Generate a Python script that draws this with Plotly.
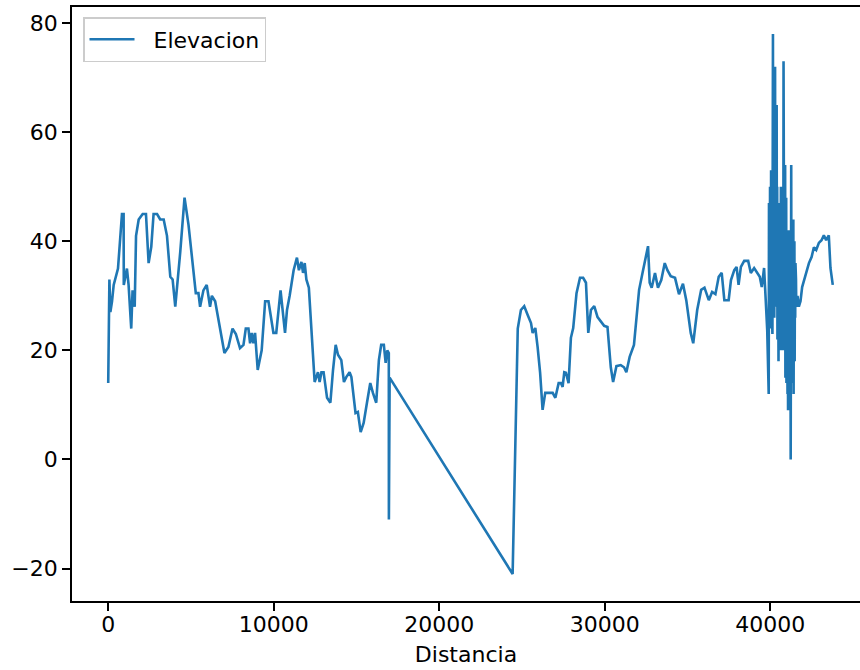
import plotly.graph_objects as go

# Distance along the profile (m) and elevation (m)
distancia = [
    0, 20, 70, 130, 230, 330, 590, 830, 930, 940,
    1130, 1230, 1390, 1470, 1600, 1680, 1840, 2080, 2280, 2440,
    2600, 2740, 2950, 3140, 3350, 3550, 3750, 3890, 4050, 4350,
    4610, 4850, 5150, 5290, 5450, 5550, 5750, 5950, 6150, 6260,
    6460, 6660, 7020, 7260, 7510, 7710, 7960, 8170, 8310, 8470,
    8570, 8670, 8770, 8870, 9030, 9270, 9480, 9680, 9980, 10150,
    10410, 10680, 10800, 10960, 11200, 11400, 11520, 11670, 11770, 11870,
    11970, 12120, 12470, 12670, 12770, 12880, 13010, 13220, 13420, 13580,
    13740, 13880, 14080, 14240, 14380, 14580, 14690, 14940, 15080, 15250,
    15430, 15630, 15830, 15990, 16190, 16350, 16490, 16650, 16760, 16860,
    16950, 16955, 17000, 24430, 24740, 24930, 25130, 25340, 25540, 25640,
    25800, 25940, 26090, 26240, 26400, 26640, 26850, 27010, 27210, 27350,
    27450, 27550, 27650, 27810, 27950, 28090, 28290, 28500, 28690, 28860,
    29000, 29160, 29360, 29560, 29760, 29960, 30160, 30260, 30360, 30500,
    30700, 30960, 31160, 31300, 31500, 31760, 31900, 32070, 32310, 32610,
    32710, 32830, 33030, 33210, 33410, 33620, 33780, 33980, 34240, 34480,
    34720, 34920, 35190, 35340, 35580, 35820, 36020, 36280, 36480, 36680,
    36880, 37060, 37220, 37480, 37620, 37820, 37960, 38080, 38220, 38420,
    38660, 38820, 39020, 39220, 39360, 39480, 39620, 39720, 39810,
    39900, 39916, 39932, 39948, 39964, 39980, 39996, 40012, 40028, 40044,
    40060, 40076, 40092, 40108, 40124, 40140, 40156, 40172, 40188, 40204,
    40220, 40236, 40252, 40268, 40284, 40300, 40316, 40332, 40348, 40364,
    40380, 40396, 40412, 40428, 40444, 40460, 40476, 40492, 40508, 40524,
    40540, 40556, 40572, 40588, 40604, 40620, 40636, 40652, 40668, 40684,
    40700, 40716, 40732, 40748, 40764, 40780, 40796, 40812, 40828, 40844,
    40860, 40876, 40892, 40908, 40924, 40940, 40956, 40972, 40988, 41004,
    41020, 41036, 41052, 41068, 41084, 41100, 41116, 41132, 41148, 41164,
    41180, 41196, 41212, 41228, 41244, 41260, 41276, 41292, 41308, 41324,
    41340, 41356, 41372, 41388, 41404, 41420, 41436, 41452, 41468, 41484,
    41500, 41516, 41532, 41548, 41564,
    41640, 41720, 41820, 41920,
    42160, 42330, 42490, 42630, 42770, 42930, 43090, 43230, 43370, 43530,
    43630, 43770,
]
elevacion = [
    14, 24, 33, 27, 29, 32, 35, 45, 45, 32,
    35, 32, 24, 31, 28, 41, 44, 45, 45, 36,
    39, 45, 45, 44, 44, 41, 33.5, 33, 28, 38,
    48, 43, 35, 30.5, 30.5, 28, 31, 32, 28, 30,
    29, 25.6, 19.5, 20.6, 24, 23, 20.4, 21, 24, 24,
    21.3, 23.2, 21.3, 23.2, 16.4, 20, 29, 29, 23.2, 23.2,
    31, 23.2, 27.4, 30, 34.7, 37, 34.7, 36.2, 34.2, 36,
    33, 31.5, 14.2, 16, 14.2, 16, 16, 11.3, 10.4, 16.4,
    21, 19.2, 18.2, 14.2, 15.1, 16, 15.1, 8.5, 8.7, 5,
    6.7, 10.4, 14, 12.2, 10.4, 18.2, 21, 21, 17.7, 20,
    19.5, -11, 15, -21, 24, 27.4, 28.1, 26.5, 25, 23.2,
    24.1, 20.6, 15.9, 9.1, 12.2, 12.2, 12.2, 11.3, 14, 14,
    13.3, 16, 15.9, 14, 22.3, 24.1, 30.5, 33.3, 33.3, 32.4,
    23.2, 27.4, 28.1, 26.1, 25.2, 24.5, 24.3, 20.6, 16.9, 14.2,
    17.1, 17.3, 16.9, 16, 18.8, 21, 26.1, 31.1, 34.7, 39.1,
    32.4, 31.5, 34.2, 31.5, 32.9, 36, 34.7, 33.6, 33.3, 30.3,
    32.2, 29.2, 23.2, 21.3, 27.4, 31.1, 31.5, 29.2, 30.7, 30.3,
    33.5, 34.2, 29.2, 29.2, 32.9, 34.7, 35.3, 32, 35.3, 36.4,
    36.4, 34.2, 35.1, 34.2, 33.5, 31.6, 35.1, 29.2, 23.7,
    12, 47, 22, 44, 26, 50, 24, 46, 30, 53,
    25, 42, 28, 48, 23, 40, 78, 27, 52, 30,
    60, 26, 45, 33, 72, 28, 55, 30, 48, 35,
    65, 29, 50, 22, 46, 30, 40, 18, 44, 21,
    38, 24, 47, 20, 42, 28, 50, 23, 45, 26,
    41, 20, 38, 25, 35, 22, 73, 28, 47, 20,
    44, 30, 54, 15, 43, 22, 48, 14, 40, 18,
    36, 12, 38, 9, 33, 20, 42, 10, 35, 18,
    30, 12, 34, 0, 28, 54, 15, 44, 20, 36,
    14, 38, 22, 44, 12, 36, 28, 40, 18, 34,
    26, 36, 30, 33, 28,
    30, 28, 29, 31.6,
    34.2, 36, 37.1, 38.9, 38.4, 39.7, 40.2, 41.1, 40.2, 41.1,
    35.1, 32,
]
x_ticks = [0, 10000, 20000, 30000, 40000]
y_ticks = [-20, 0, 20, 40, 60, 80]

FONT = "DejaVu Sans"
W, H = 860, 670
L, R, T, B = 72, 0, 7, 69
full_axes_w = 797  # matplotlib axes box extends past the cropped image edge
plot_w = W - L - R

xmin, xmax = min(distancia), max(distancia)
xpad = 0.05 * (xmax - xmin)
x0, x1_full = xmin - xpad, xmax + xpad
x1 = x0 + (x1_full - x0) * plot_w / full_axes_w

ymin, ymax = min(elevacion), max(elevacion)
ypad = 0.05 * (ymax - ymin)

fig = go.Figure()
fig.add_trace(go.Scatter(
    x=distancia, y=elevacion, mode="lines", name="\u00a0\u00a0Elevacion",
    line=dict(color="#1f77b4", width=2.6),
))

fig.update_layout(
    width=W, height=H,
    margin=dict(l=L, r=R, t=T, b=B, pad=0),
    paper_bgcolor="white", plot_bgcolor="white",
    font=dict(family=FONT, size=22, color="#000000"),
    showlegend=True,
    legend=dict(
        x=(83 - L) / plot_w, y=1 - (17 - T) / (H - T - B),
        xanchor="left", yanchor="top",
        bgcolor="rgba(255,255,255,0.8)", bordercolor="#cccccc", borderwidth=1.5,
        font=dict(family=FONT, size=22, color="#000000"),
        itemwidth=45,
    ),
)
fig.update_xaxes(
    range=[x0, x1], tickvals=x_ticks, ticktext=[str(v) for v in x_ticks],
    showgrid=False, zeroline=False,
    showline=True, linecolor="#000000", linewidth=1.8, mirror=True,
    ticks="outside", ticklen=8, tickwidth=1.8, tickcolor="#000000",
    ticklabelstandoff=-5,
    title=dict(text="Distancia", font=dict(family=FONT, size=22, color="#000000"), standoff=10),
)
fig.update_yaxes(
    range=[ymin - ypad, ymax + ypad], tickvals=y_ticks,
    ticktext=[("\u2212" + str(-v)) if v < 0 else str(v) for v in y_ticks],
    showgrid=False, zeroline=False,
    showline=True, linecolor="#000000", linewidth=1.8, mirror=False,
    ticks="outside", ticklen=8, tickwidth=1.8, tickcolor="#000000",
)

fig.write_html("out.html")
